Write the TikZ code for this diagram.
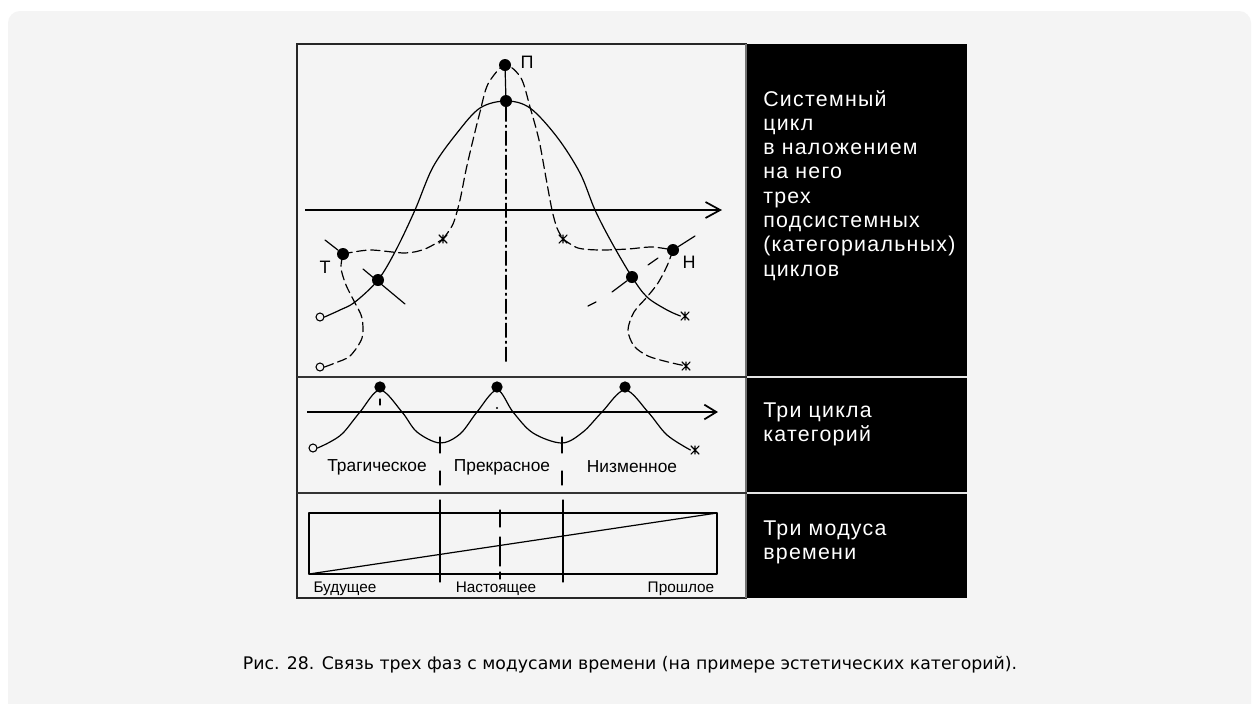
\documentclass[tikz,border=0pt]{standalone}
\usepackage{fontspec}
\setmainfont{Liberation Sans}
\newfontfamily\capfont{DejaVu Sans}
\newfontfamily\sidefont[LetterSpace=6]{Liberation Sans}
\usetikzlibrary{arrows.meta}
\definecolor{bggray}{HTML}{F4F4F4}
\begin{document}
\begin{tikzpicture}[x=0.75pt,y=-0.75pt,
  curve/.style={line width=0.9pt, line join=round, line cap=round},
  dcurve/.style={curve, dash pattern=on 7pt off 3.5pt},
  dot/.style={circle, fill=black, inner sep=0pt, minimum size=9pt},
  sdot/.style={circle, fill=black, inner sep=0pt, minimum size=8.5pt},
  omark/.style={circle, draw=black, line width=0.8pt, fill=bggray, inner sep=0pt, minimum size=6pt},
  xmark/.style={rectangle, inner sep=0pt, minimum size=6.5pt,
    path picture={\draw[line width=0.8pt]
      (path picture bounding box.north west) -- (path picture bounding box.south east)
      (path picture bounding box.north east) -- (path picture bounding box.south west)
      (path picture bounding box.north) -- (path picture bounding box.south);}},
  axis/.style={line width=1.3pt, -{Straight Barb[length=11pt,width=12pt,line width=1.3pt]}},
  axisb/.style={line width=1.3pt, -{Straight Barb[length=9pt,width=11pt,line width=1.3pt]}},
  sidetext/.style={anchor=base west, text=white, inner sep=0pt, font=\sidefont\fontsize{16}{19}\selectfont},
  lbl/.style={inner sep=0pt, font=\fontsize{13}{15}\selectfont},
  slbl/.style={inner sep=0pt, font=\fontsize{11.5}{13}\selectfont},
  letter/.style={inner sep=0pt, font=\fontsize{13.5}{15}\selectfont},
]
\useasboundingbox (0,0) rectangle (1258,704);
\clip (0,0) rectangle (1258,704);
% background
\fill[white] (0,0) rectangle (1258,704);
\fill[bggray, rounded corners=9pt] (8,11) rectangle (1251,740);
% panels
\fill[black] (747,44) rectangle (967,598);
\draw[line width=1.3pt, black!85] (747,44) -- (297,44) -- (297,598) -- (747,598);
\draw[line width=1pt, black!55] (746,44) -- (746,598);
\draw[line width=1.2pt, black!80] (297,377) -- (747,377);
\draw[line width=1pt, black!10] (747,377) -- (967,377);
\draw[line width=1.2pt, black!80] (297,493) -- (747,493);
\draw[line width=1pt, black!10] (747,493) -- (967,493);

% ---------- top section ----------
\coordinate (a1s) at (305,210);
\coordinate (a1e) at (722,210);
\draw[axis] (a1s) -- (a1e);

\node[dot] (P) at (505,65) {};
\node[dot] (S) at (506,101) {};
\node[dot] (T) at (343,254) {};
\node[dot] (H) at (673,250) {};
\node[dot] (L) at (378,280) {};
\node[dot] (R) at (632,277) {};
\node[omark] (o1) at (320,317) {};
\node[omark] (o2) at (320,367) {};
\node[xmark] (x1) at (685,316) {};
\node[xmark] (x2) at (686,366) {};
\node[xmark] (x3) at (443,239) {};
\node[xmark] (x4) at (563,239) {};
\node[letter] (lP) at (527,62) {П};
\node[letter] (lT) at (325,267) {Т};
\node[letter] (lH) at (689,262) {Н};

% vertical dash-dot axis
\coordinate (vbot) at (506,363);
\draw[curve] (P) -- (S);
\draw[curve, dash pattern=on 10.5pt off 3pt on 1.5pt off 3pt] (S) -- (vbot);

% system cycle (solid)
\draw[curve] plot[smooth, tension=0.55] coordinates {(o1.east) (340,310) (355,302) (L.center) (396,250) (415,210) (433,167) (457,133) (480,108) (S.center) (530,108) (557,137) (580,173) (595,210) (612,243) (R.center) (647,297) (667,310) (x1.west)};

% three subsystem cycles (dashed)
\draw[dcurve] plot[smooth, tension=0.5] coordinates {(o2.east) (335,363) (350,356) (362,338) (362,318) (355,303) (346,285) (341,268) (T.center)};
\draw[dcurve] plot[smooth, tension=0.5] coordinates {(T.center) (370,250) (405,253) (425,249) (x3.center)};
\draw[dcurve] plot[smooth, tension=0.5] coordinates {(x3.center) (453,224) (460,200) (466,170) (473,140) (480,112) (488,84) (P.center) (521,78) (530,107) (539,140) (546,178) (552,210) (557,228) (x4.center)};
\draw[dcurve] plot[smooth, tension=0.5] coordinates {(x4.center) (578,248) (600,250) (628,249) (652,247) (H.center)};
\draw[dcurve] plot[smooth, tension=0.5] coordinates {(H.center) (667,266) (658,283) (647,297) (634,312) (628,330) (634,346) (648,356) (668,362) (x2.center)};

% short strokes
\coordinate (tT) at (325,240);
\coordinate (tH) at (695,236);
\coordinate (tL1) at (363,269);
\coordinate (tL2) at (405,304);
\coordinate (tR1) at (612,292);
\coordinate (tR2a) at (648,265);
\coordinate (tR2) at (658,258);
\coordinate (st1) at (588,306);
\coordinate (st2) at (596,302);
\draw[curve] (tT) -- (T);
\draw[curve] (H) -- (tH);
\draw[curve] (tL1) -- (tL2);
\draw[curve] (tR1) -- (R);
\draw[curve] (tR2a) -- (tR2);
\draw[curve] (st1) -- (st2);

% ---------- middle section ----------
\coordinate (a2s) at (307,412);
\coordinate (a2e) at (718,412);
\draw[axisb] (a2s) -- (a2e);
\node[omark] (o3) at (313,448) {};
\node[xmark] (x5) at (695,450) {};
\node[sdot] (p1) at (380,387) {};
\node[sdot] (p2) at (497,387) {};
\node[sdot] (p3) at (625,387) {};
\draw[curve] plot[smooth, tension=0.55] coordinates {(o3.east) (330,442) (343,433) (360,412) (380,390) (402,412) (417,432) (440,443) (460,434) (477,412) (497,390) (513,412) (533,433) (562,443) (583,432) (602,412) (625,390) (648,412) (667,435) (x5.west)};
\draw[curve] (380,399) -- (380,405);
\fill (497,408) circle (0.8pt);
\draw[curve] (440,437) -- (440,453);
\draw[curve] (562,437) -- (562,453);
\draw[curve] (440,471) -- (440,485);
\draw[curve] (562,471) -- (562,485);
\node[lbl] (c1) at (377,467) {Трагическое};
\node[lbl] (c2) at (502,467) {Прекрасное};
\node[lbl] (c3) at (632,467) {Низменное};

% ---------- bottom section ----------
\coordinate (bsw) at (309,574);
\coordinate (bne) at (717,513);
\draw[curve] (bsw) rectangle (bne);
\draw[curve] (bsw) -- (bne);
\draw[curve] (440,500) -- (440,582);
\draw[curve] (563,500) -- (563,582);
\draw[curve] (500,510) -- (500,527);
\draw[curve] (500,537) -- (500,566);
\draw[curve] (500,572) -- (500,579);
\node[slbl] (m1) at (345,589) {Будущее};
\node[slbl] (m2) at (496,589) {Настоящее};
\node[slbl] (m3) at (681,589) {Прошлое};

% ---------- side texts ----------
\node[sidetext] (s1) at (763,106) {Системный};
\node[sidetext] (s2) at (763,130.3) {цикл};
\node[sidetext] (s3) at (763,154.6) {в наложением};
\node[sidetext] (s4) at (763,178.9) {на него};
\node[sidetext] (s5) at (763,203.2) {трех};
\node[sidetext] (s6) at (763,227.5) {подсистемных};
\node[sidetext] (s7) at (763,251.8) {(категориальных)};
\node[sidetext] (s8) at (763,276.1) {циклов};
\node[sidetext] (s9) at (763,417) {Три цикла};
\node[sidetext] (s10) at (763,441) {категорий};
\node[sidetext] (s11) at (763,535) {Три модуса};
\node[sidetext] (s12) at (763,559) {времени};

% caption
\node[inner sep=0pt, font=\capfont\fontsize{13}{15}\selectfont] (cap) at (630,665) {Рис. 28. Связь трех фаз с модусами времени (на примере эстетических категорий).};
\end{tikzpicture}
\end{document}
